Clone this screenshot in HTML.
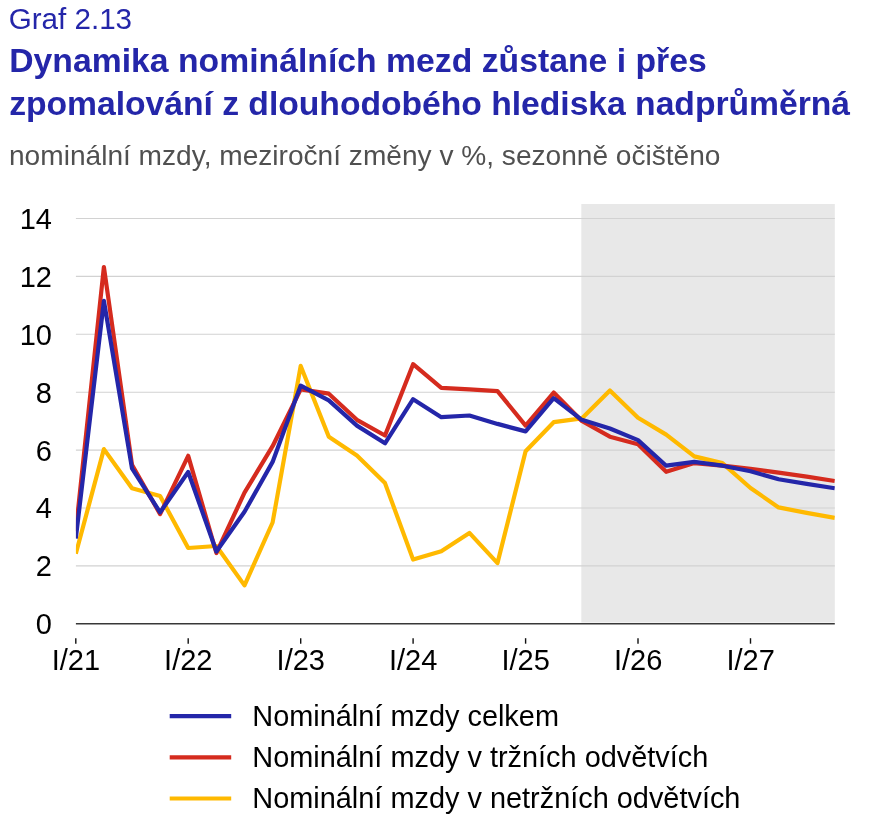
<!DOCTYPE html>
<html lang="cs"><head><meta charset="utf-8"><title>Graf 2.13</title>
<style>
html,body{margin:0;padding:0;background:#fff}
svg{display:block;font-family:"Liberation Sans",Arial,sans-serif}
</style></head><body>
<svg width="869" height="828" viewBox="0 0 869 828">
<rect width="869" height="828" fill="#fff"/>
<text x="8.7" y="28.8" font-size="29.6" fill="#2426a9">Graf 2.13</text>
<text x="9.2" y="72" font-size="33.7" letter-spacing="0.03" font-weight="bold" fill="#2426a9">Dynamika nominálních mezd zůstane i přes</text>
<text x="9.2" y="115" font-size="33.7" letter-spacing="-0.03" font-weight="bold" fill="#2426a9">zpomalování z dlouhodobého hlediska nadprůměrná</text>
<text x="9" y="165" font-size="28.1" fill="#505050">nominální mzdy, meziroční změny v %, sezonně očištěno</text>
<rect x="581.3" y="204" width="253.5" height="418.5" fill="#e8e8e8"/>
<g stroke="#d2d2d2" stroke-width="1.1"><line x1="75.9" x2="834.8" y1="565.9" y2="565.9"/><line x1="75.9" x2="834.8" y1="508.0" y2="508.0"/><line x1="75.9" x2="834.8" y1="450.1" y2="450.1"/><line x1="75.9" x2="834.8" y1="392.2" y2="392.2"/><line x1="75.9" x2="834.8" y1="334.3" y2="334.3"/><line x1="75.9" x2="834.8" y1="276.4" y2="276.4"/><line x1="75.9" x2="834.8" y1="218.5" y2="218.5"/></g>
<line x1="75.9" x2="834.8" y1="623.85" y2="623.85" stroke="#383838" stroke-width="1.5"/>
<g stroke="#111" stroke-width="1.4"><line x1="75.8" x2="75.8" y1="638.2" y2="643.7"/><line x1="188.2" x2="188.2" y1="638.2" y2="643.7"/><line x1="300.7" x2="300.7" y1="638.2" y2="643.7"/><line x1="413.1" x2="413.1" y1="638.2" y2="643.7"/><line x1="525.6" x2="525.6" y1="638.2" y2="643.7"/><line x1="638.0" x2="638.0" y1="638.2" y2="643.7"/><line x1="750.5" x2="750.5" y1="638.2" y2="643.7"/></g>
<g font-size="29" fill="#000"><text x="52" y="634.2" text-anchor="end">0</text><text x="52" y="576.3" text-anchor="end">2</text><text x="52" y="518.4" text-anchor="end">4</text><text x="52" y="460.5" text-anchor="end">6</text><text x="52" y="402.6" text-anchor="end">8</text><text x="52" y="344.7" text-anchor="end">10</text><text x="52" y="286.8" text-anchor="end">12</text><text x="52" y="228.9" text-anchor="end">14</text><text x="75.9" y="669.6" text-anchor="middle">I/21</text><text x="188.3" y="669.6" text-anchor="middle">I/22</text><text x="300.8" y="669.6" text-anchor="middle">I/23</text><text x="413.2" y="669.6" text-anchor="middle">I/24</text><text x="525.7" y="669.6" text-anchor="middle">I/25</text><text x="638.1" y="669.6" text-anchor="middle">I/26</text><text x="750.6" y="669.6" text-anchor="middle">I/27</text></g>
<clipPath id="c"><rect x="75.9" y="200" width="758.9" height="430"/></clipPath>
<g fill="none" stroke-width="4.2" stroke-linejoin="round" clip-path="url(#c)">
<polyline stroke="#ffb900" points="75.8,553.8 103.9,449.1 132.0,488.3 160.1,496.1 188.2,548.0 216.4,546.0 244.5,585.4 272.6,522.5 300.7,365.9 328.8,436.7 356.9,455.5 385.0,483.1 413.1,559.6 441.3,551.2 469.4,532.9 497.5,563.1 525.6,451.2 553.7,422.2 581.8,418.4 609.9,390.5 638.0,417.8 666.2,434.6 694.3,456.4 722.4,463.1 750.5,488.0 778.6,507.4 806.7,512.9 834.8,517.9"/>
<polyline stroke="#d52b1e" points="75.8,531.2 103.9,267.0 132.0,464.8 160.1,514.1 188.2,455.8 216.4,553.0 244.5,492.6 272.6,446.2 300.7,389.4 328.8,393.7 356.9,419.8 385.0,435.5 413.1,364.2 441.3,387.9 469.4,389.4 497.5,391.1 525.6,425.6 553.7,392.6 581.8,421.0 609.9,436.7 638.0,444.2 666.2,471.8 694.3,463.1 722.4,465.7 750.5,468.9 778.6,472.6 806.7,476.7 834.8,481.0"/>
<polyline stroke="#2426a9" points="75.8,538.5 103.9,300.9 132.0,468.3 160.1,512.4 188.2,472.0 216.4,551.5 244.5,511.8 272.6,461.9 300.7,385.6 328.8,400.4 356.9,425.6 385.0,443.3 413.1,399.2 441.3,417.2 469.4,415.5 497.5,423.9 525.6,431.4 553.7,398.1 581.8,419.8 609.9,428.5 638.0,440.1 666.2,465.7 694.3,461.9 722.4,465.7 750.5,471.2 778.6,479.3 806.7,483.9 834.8,488.3"/>
</g>
<g stroke-width="4.2">
<line x1="169.7" x2="231.2" y1="716.1" y2="716.1" stroke="#2426a9"/>
<line x1="169.7" x2="231.2" y1="757.3" y2="757.3" stroke="#d52b1e"/>
<line x1="169.7" x2="231.2" y1="798.5" y2="798.5" stroke="#ffb900"/>
</g>
<g font-size="28.9" fill="#000">
<text x="252.3" y="725.8">Nominální mzdy celkem</text>
<text x="252.3" y="767.1">Nominální mzdy v tržních odvětvích</text>
<text x="252.3" y="808.2">Nominální mzdy v netržních odvětvích</text>
</g>
</svg>
</body></html>
